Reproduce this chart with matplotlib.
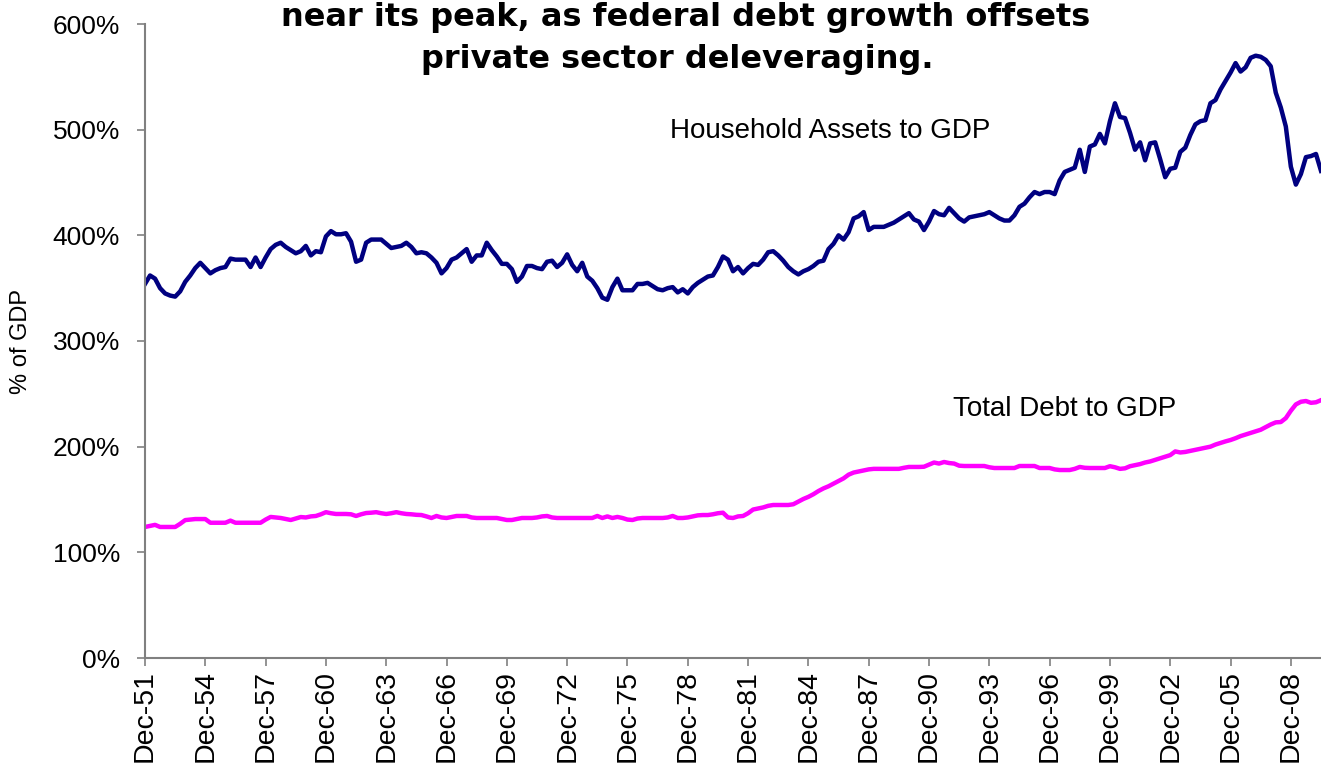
import matplotlib
matplotlib.use("Agg")
import matplotlib.pyplot as plt

# Quarterly series, Q4 1951 through Q2 2010 (percent of GDP)
household_assets = [
    354, 362, 359, 350, 345, 343, 342, 347, 356, 362,
    369, 374, 369, 364, 367, 369, 370, 378, 377, 377,
    377, 370, 379, 370, 379, 387, 391, 393, 389, 386,
    383, 385, 390, 381, 385, 384, 399, 404, 401, 401,
    402, 394, 375, 377, 393, 396, 396, 396, 392, 388,
    389, 390, 393, 389, 383, 384, 383, 379, 374, 364,
    369, 377, 379, 383, 387, 375, 381, 381, 393, 386,
    380, 373, 373, 368, 356, 361, 371, 371, 369, 368,
    375, 376, 370, 374, 382, 372, 366, 374, 361, 357,
    350, 341, 339, 351, 359, 348, 348, 348, 354, 354,
    355, 352, 349, 348, 350, 351, 346, 349, 345, 351,
    355, 358, 361, 362, 370, 380, 377, 366, 370, 364,
    369, 373, 372, 377, 384, 385, 381, 376, 370, 366,
    363, 366, 368, 371, 375, 376, 387, 392, 400, 396,
    403, 416, 418, 422, 405, 408, 408, 408, 410, 412,
    415, 418, 421, 415, 413, 405, 413, 423, 420, 419,
    426, 421, 416, 413, 417, 418, 419, 420, 422, 419,
    416, 414, 414, 419, 427, 430, 436, 441, 439, 441,
    441, 439, 452, 460, 462, 464, 481, 460, 484, 486,
    496, 487, 508, 525, 512, 511, 497, 481, 488, 471,
    487, 488, 472, 455, 463, 464, 479, 483, 495, 505,
    508, 509, 525, 528, 538, 546, 554, 563, 555, 559,
    568, 570, 569, 566, 560, 535, 521, 503, 465, 448,
    458, 474, 475, 477, 461,
]

total_debt = [
    124, 125, 126, 124, 124, 124, 124, 127, 130.5, 131,
    131.5, 131.5, 131.5, 128, 128, 128, 128, 130, 128, 128,
    128, 128, 128, 128, 131, 133.5, 133, 132.5, 131.5, 130.6,
    132, 133.4, 133, 134, 134.4, 136, 138, 137, 136.3, 136.3,
    136.3, 136, 134.4, 136, 137.2, 137.5, 138, 137, 136.3, 137,
    138, 137, 136.3, 136, 135.5, 135.3, 134, 132.5, 134.4, 133,
    132.5, 133.5, 134.4, 134.4, 134.4, 133, 132.5, 132.5, 132.5, 132.5,
    132.5, 131.5, 130.6, 130.6, 131.5, 132.5, 132.5, 132.5, 133, 134,
    134.4, 133, 132.5, 132.5, 132.5, 132.5, 132.5, 132.5, 132.5, 132.5,
    134.4, 132.5, 134, 132.5, 133.5, 132.5, 131, 130.6, 132, 132.5,
    132.5, 132.5, 132.5, 132.5, 133, 134.4, 132.5, 132.5, 133, 134,
    135, 135.3, 135.3, 136, 137, 137.5, 133, 132.5, 134, 134.4,
    137, 140.5, 141.5, 142.5, 144, 144.8, 144.8, 144.8, 144.8, 145.5,
    148, 150.5, 152.5, 155, 158, 160.5, 162.5, 165, 167.5, 170,
    173.5, 175.5, 176.5, 177.5, 178.5, 179, 179, 179, 179, 179,
    179, 180, 180.8, 180.8, 180.8, 181, 183, 185, 184, 185.5,
    184.5, 184, 182, 181.7, 181.7, 181.7, 181.7, 181.7, 180.5, 179.8,
    179.8, 179.8, 179.8, 179.8, 181.7, 181.7, 181.7, 181.7, 179.8, 179.8,
    179.8, 178.5, 177.9, 177.9, 177.9, 179, 180.8, 180, 179.8, 179.8,
    179.8, 179.8, 181.5, 180.5, 179, 179.5, 181.5, 182.5, 183.5, 185,
    186, 187.5, 189, 190.5, 192, 195.5, 194.5, 195, 196, 197,
    198, 199, 200, 202, 203.5, 205, 206.3, 208, 210, 211.5,
    213, 214.5, 216, 218.5, 221, 223, 223.3, 227, 234, 240,
    242.5, 243.2, 241.5, 242, 244,
]

tick_labels = ["Dec-51", "Dec-54", "Dec-57", "Dec-60", "Dec-63", "Dec-66",
               "Dec-69", "Dec-72", "Dec-75", "Dec-78", "Dec-81", "Dec-84",
               "Dec-87", "Dec-90", "Dec-93", "Dec-96", "Dec-99", "Dec-02",
               "Dec-05", "Dec-08"]
y_ticks = [0, 100, 200, 300, 400, 500, 600]

title_lines = ["near its peak, as federal debt growth offsets",
               "private sector deleveraging."]

plt.rcParams["font.family"] = ["Liberation Sans", "DejaVu Sans"]

W, H = 1321, 774
fig = plt.figure(figsize=(W / 100, H / 100), dpi=100)
fig.patch.set_facecolor("white")
ax = fig.add_axes([145 / W, (H - 658) / H, (W - 145) / W, (658 - 24) / H])

x = list(range(len(household_assets)))
ax.plot(x, household_assets, color="#000080", lw=3.2, solid_joinstyle="round")
ax.plot(x, total_debt, color="#FF00FF", lw=3.2, solid_joinstyle="round")

ax.set_xlim(0, len(x) - 1)
ax.set_ylim(0, 600)
ax.set_yticks(y_ticks)
ax.set_yticklabels([f"{v}%" for v in y_ticks], fontsize=19)
ax.set_xticks(list(range(0, 12 * len(tick_labels), 12)))
ax.set_xticklabels(tick_labels, rotation=90, fontsize=20.5)

for side in ("top", "right"):
    ax.spines[side].set_visible(False)
for side in ("left", "bottom"):
    ax.spines[side].set_color("#808080")
    ax.spines[side].set_linewidth(1.5)
ax.tick_params(axis="y", direction="out", length=6, width=1.2, color="#808080", pad=12)
ax.tick_params(axis="x", direction="out", length=6, width=1.2, color="#808080", pad=3)

ax.set_ylabel("% of GDP", fontsize=17)
ax.yaxis.set_label_coords(-0.096, 0.5)

ax.text(0.583, 0.832, "Household Assets to GDP", transform=ax.transAxes,
        fontsize=20, ha="center", va="center")
ax.text(0.782, 0.392, "Total Debt to GDP", transform=ax.transAxes,
        fontsize=20, ha="center", va="center")

fig.text(686 / W, 1 - 26 / H, title_lines[0], ha="center", va="baseline",
         fontsize=23, fontweight="bold", family=["DejaVu Sans"])
fig.text(677 / W, 1 - 68 / H, title_lines[1], ha="center", va="baseline",
         fontsize=23, fontweight="bold", family=["DejaVu Sans"])

fig.savefig("out.png", dpi=100)
